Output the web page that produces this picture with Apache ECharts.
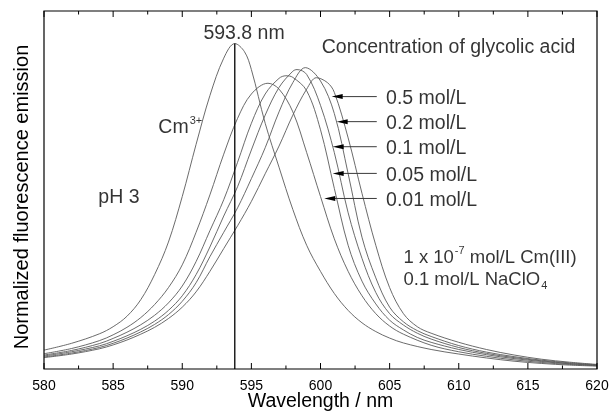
<!DOCTYPE html>
<html>
<head>
<meta charset="utf-8">
<script src="https://cdn.jsdelivr.net/npm/echarts@6/dist/echarts.min.js"></script>
<style>
  html, body { margin: 0; background: #fff; }
  #chart { width: 609px; height: 413px; }
</style>
</head>
<body>
<div id="chart"></div>
<script>
const FONT = '"Liberation Sans", Arial, Helvetica, sans-serif';

// spectra: wavelength (nm) / normalized emission
const cmWl  = [580, 582, 584, 585, 586, 587, 588, 589, 590, 591, 592, 593, 593.8, 594.5, 595, 596, 597, 598, 599, 600, 601, 602, 603, 604, 605, 606, 608, 610, 612, 614, 616, 618, 620];
const cmVal = [0.058, 0.079, 0.108, 0.13, 0.162, 0.213, 0.29, 0.39, 0.53, 0.69, 0.84, 0.955, 1.0, 0.975, 0.92, 0.755, 0.62, 0.49, 0.38, 0.3, 0.232, 0.18, 0.142, 0.115, 0.095, 0.08, 0.06, 0.046, 0.034, 0.024, 0.017, 0.012, 0.009];

const c001Wl  = [580, 582, 584, 585, 586, 587, 588, 589, 590, 591, 592, 593, 594, 595, 596.2, 597, 598, 599, 600, 601, 602, 603, 604, 605, 606, 608, 610, 612, 614, 616, 618, 620];
const c001Val = [0.047, 0.063, 0.087, 0.105, 0.128, 0.158, 0.198, 0.25, 0.32, 0.42, 0.535, 0.66, 0.77, 0.845, 0.878, 0.86, 0.79, 0.665, 0.53, 0.4, 0.3, 0.225, 0.17, 0.132, 0.107, 0.073, 0.053, 0.039, 0.028, 0.02, 0.014, 0.01];

const c005Wl  = [580, 582, 584, 585, 586, 587, 588, 589, 590, 591, 592, 593, 594, 595, 596, 597, 597.5, 598, 599, 600, 601, 602, 603, 604, 605, 606, 607, 608, 610, 612, 614, 616, 618, 620];
const c005Val = [0.043, 0.057, 0.078, 0.094, 0.113, 0.136, 0.165, 0.203, 0.255, 0.33, 0.425, 0.52, 0.635, 0.755, 0.845, 0.893, 0.901, 0.896, 0.855, 0.735, 0.555, 0.38, 0.27, 0.2, 0.15, 0.12, 0.097, 0.082, 0.06, 0.044, 0.032, 0.023, 0.016, 0.011];

const c01Wl  = [580, 582, 584, 585, 586, 587, 588, 589, 590, 591, 592, 593, 594, 595, 596, 597, 598, 598.3, 599, 600, 601, 602, 603, 604, 605, 606, 607, 608, 610, 612, 614, 616, 618, 620];
const c01Val = [0.04, 0.053, 0.071, 0.085, 0.102, 0.122, 0.147, 0.18, 0.225, 0.29, 0.375, 0.47, 0.56, 0.673, 0.78, 0.865, 0.915, 0.92, 0.905, 0.81, 0.665, 0.48, 0.34, 0.235, 0.17, 0.135, 0.11, 0.092, 0.066, 0.048, 0.035, 0.025, 0.017, 0.012];

const c02Wl  = [580, 582, 584, 585, 586, 587, 588, 589, 590, 591, 592, 593, 594, 595, 596, 597, 598, 598.9, 600, 601, 602, 603, 604, 605, 606, 607, 608, 610, 612, 614, 616, 618, 620];
const c02Val = [0.037, 0.049, 0.066, 0.079, 0.095, 0.114, 0.137, 0.167, 0.208, 0.265, 0.345, 0.42, 0.495, 0.585, 0.68, 0.79, 0.88, 0.926, 0.885, 0.785, 0.6, 0.405, 0.28, 0.19, 0.145, 0.118, 0.1, 0.072, 0.052, 0.038, 0.027, 0.019, 0.013];

const c05Wl  = [580, 582, 584, 585, 586, 587, 588, 589, 590, 591, 592, 593, 594, 595, 596, 597, 598, 599, 599.7, 600.5, 601, 602, 603, 604, 605, 606, 607, 608, 610, 612, 614, 616, 618, 620];
const c05Val = [0.035, 0.046, 0.062, 0.074, 0.089, 0.107, 0.128, 0.155, 0.19, 0.237, 0.3, 0.37, 0.44, 0.515, 0.6, 0.685, 0.78, 0.86, 0.895, 0.88, 0.85, 0.71, 0.54, 0.38, 0.25, 0.17, 0.13, 0.11, 0.082, 0.06, 0.043, 0.03, 0.021, 0.014];

const curves = [
  ['Cm3+', cmWl, cmVal],
  ['0.01 mol/L', c001Wl, c001Val],
  ['0.05 mol/L', c005Wl, c005Val],
  ['0.1 mol/L', c01Wl, c01Val],
  ['0.2 mol/L', c02Wl, c02Val],
  ['0.5 mol/L', c05Wl, c05Val],
];

const peakWl = 593.8;
const peakVal = 1.0;

// axis ranges and the tick marks drawn on the bottom and top edges
const xMin = 580, xMax = 620, yMin = 0, yMax = 1.1;
const majorTicks = [580, 585, 590, 595, 600, 605, 610, 615, 620];
const minorTicks = [582.5, 587.5, 592.5, 597.5, 602.5, 607.5, 612.5, 617.5];

// concentration labels and the arrow each one points with
const concLabels = ['0.5 mol/L', '0.2 mol/L', '0.1 mol/L', '0.05 mol/L', '0.01 mol/L'];
const concY      = [0.837, 0.760, 0.683, 0.601, 0.524];
const arrowTail  = 604.07;
const arrowTips  = [600.81, 601.17, 600.88, 600.88, 600.27];
const labelX     = 604.74;

// free text on the plot: text, wavelength, value, placement, font size
const notes = [
  ['593.8 nm', 594.47, 1.03, 'inside', 19.5],
  ['Concentration of glycolic acid', 600.09, 0.988, 'right', 19.5],
  ['Cm{sup|3+}', 588.27, 0.742, 'right', 19.5],
  ['pH 3', 583.93, 0.527, 'right', 19.5],
  ['1 x 10{sup|-7} mol/L Cm(III)', 606.0, 0.3425, 'right', 18.5],
  ['0.1 mol/L NaClO{sub|4}', 606.0, 0.275, 'right', 18.5],
];

const chart = echarts.init(document.getElementById('chart'), null, { renderer: 'canvas' });

const series = curves.map(([name, wl, val]) => ({
  name,
  type: 'line',
  data: wl.map((w, i) => [w, val[i]]),
  showSymbol: false,
  smooth: 0.35,
  silent: true,
  lineStyle: { color: '#5a5a5a', width: 0.9 },
  z: 2,
}));

series.push({
  name: 'peak',
  type: 'line',
  data: [[peakWl, 0], [peakWl, peakVal]],
  showSymbol: false,
  silent: true,
  lineStyle: { color: '#000', width: 1.3 },
  z: 3,
});

// box + inward ticks on bottom and top, placed through the axis scales
series.push({
  name: 'frame',
  type: 'custom',
  silent: true,
  clip: false,
  data: majorTicks.map((v) => [v, 1]).concat(minorTicks.map((v) => [v, 0])),
  encode: { x: 0, y: 1 },
  renderItem: (params, api) => {
    const v = api.value(0);
    const len = api.value(1) ? 6 : 3.5;
    const b = api.coord([v, yMin]);
    const t = api.coord([v, yMax]);
    const children = [
      { type: 'line', shape: { x1: b[0], y1: b[1], x2: b[0], y2: b[1] - len }, style: { stroke: '#000', lineWidth: 1 } },
      { type: 'line', shape: { x1: t[0], y1: t[1], x2: t[0], y2: t[1] + len }, style: { stroke: '#000', lineWidth: 1 } },
    ];
    if (params.dataIndex === 0) {
      const lo = api.coord([xMin, yMin]);
      const hi = api.coord([xMax, yMax]);
      children.push({
        type: 'rect',
        shape: { x: lo[0], y: hi[1], width: hi[0] - lo[0], height: lo[1] - hi[1] },
        style: { fill: 'none', stroke: '#000', lineWidth: 1.2 },
      });
    }
    return { type: 'group', children };
  },
  z: 6,
});

series.push({
  name: 'arrows',
  type: 'custom',
  silent: true,
  data: arrowTips.map((tip, i) => [arrowTail, tip, concY[i]]),
  encode: { x: [0, 1], y: 2 },
  renderItem: (params, api) => {
    const a = api.coord([api.value(0), api.value(2)]);
    const b = api.coord([api.value(1), api.value(2)]);
    return {
      type: 'group',
      children: [
        { type: 'line', shape: { x1: a[0], y1: a[1], x2: b[0] + 8, y2: b[1] },
          style: { stroke: '#3a3a3a', lineWidth: 1 } },
        { type: 'polygon', shape: { points: [[b[0], b[1]], [b[0] + 11, b[1] - 2.5], [b[0] + 11, b[1] + 2.5]] },
          style: { fill: '#000' } },
      ],
    };
  },
  z: 4,
});

const textStyle = (size) => ({
  color: '#000', fontSize: size, fontFamily: FONT,
  rich: {
    sup: { fontSize: 11, fontFamily: FONT, color: '#000', padding: [0, 0, 14, 1] },
    sub: { fontSize: 11, fontFamily: FONT, color: '#000', padding: [12, 0, 0, 1] },
  },
});

series.push({
  name: 'notes',
  type: 'scatter',
  silent: true,
  symbolSize: 0,
  data: notes.map(([t, x, y, pos, size]) => ({
    value: [x, y],
    label: { show: true, position: pos, distance: 0, formatter: t, ...textStyle(size) },
  }))
    .concat(concLabels.map((t, i) => ({
      value: [labelX, concY[i]],
      label: { show: true, position: 'right', distance: 0, offset: [0, 2], formatter: t, ...textStyle(19.5) },
    }))),
  z: 5,
});

chart.setOption({
  animation: false,
  backgroundColor: '#fff',
  grid: { left: 44, right: 12, top: 11, bottom: 44, outerBoundsMode: 'none', containLabel: false },
  xAxis: {
    type: 'value', min: xMin, max: xMax, interval: 5,
    axisLine: { show: false, onZero: false },
    axisTick: { show: false }, minorTick: { show: false }, splitLine: { show: false },
    axisLabel: { color: '#000', fontSize: 14, fontFamily: FONT, margin: 10 },
    name: 'Wavelength / nm', nameLocation: 'middle', nameGap: 23, nameMoveOverlap: false,
    nameTextStyle: { color: '#000', fontSize: 19.5, fontFamily: FONT },
  },
  yAxis: {
    type: 'value', min: yMin, max: yMax,
    axisLine: { show: false, onZero: false },
    axisTick: { show: false }, axisLabel: { show: false }, splitLine: { show: false },
    name: 'Normalized fluorescence emission', nameLocation: 'middle', nameGap: 12, nameMoveOverlap: false,
    nameTextStyle: { color: '#000', fontSize: 20, fontFamily: FONT, padding: [0, 14, 0, 0] },
  },
  series,
});
</script>
</body>
</html>
